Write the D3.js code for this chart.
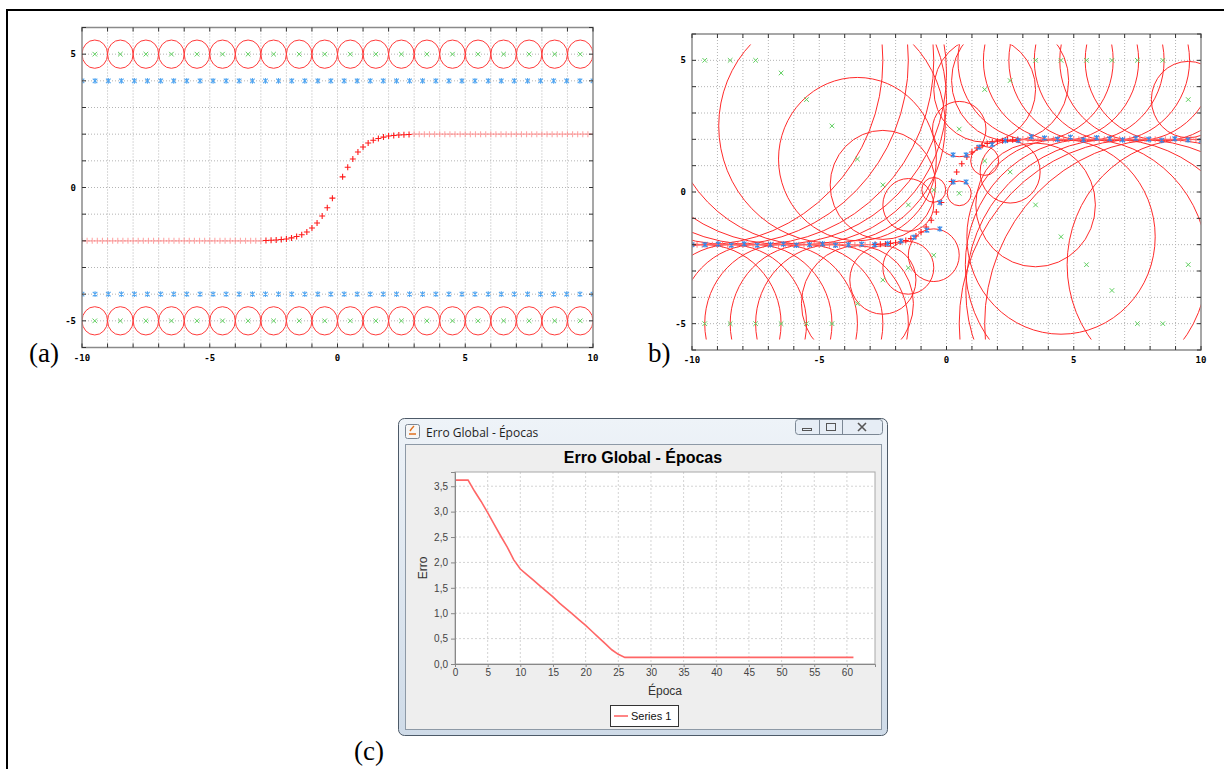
<!DOCTYPE html>
<html>
<head>
<meta charset="utf-8">
<script src="https://cdn.jsdelivr.net/npm/d3@7"></script>
<style>
  body { margin: 0; background: #fff; }
  svg { display: block; }
</style>
</head>
<body>
<svg id="fig" width="1224" height="769"></svg>
<script>
/*
** DATA
*/
// Sample positions used by the network output (40 points across [-10, 10])
const sampleX = [-10, -9.49, -8.97, -8.46, -7.95, -7.44, -6.92, -6.41, -5.9, -5.38,
  -4.87, -4.36, -3.85, -3.33, -2.82, -2.31, -1.79, -1.28, -0.77, -0.26,
  0.26, 0.77, 1.28, 1.79, 2.31, 2.82, 3.33, 3.85, 4.36, 4.87,
  5.38, 5.9, 6.41, 6.92, 7.44, 7.95, 8.46, 8.97, 9.49, 10];

// Target curve (red +): flat parts and the rising part
const plateauLeftX = [-10, -9.8, -9.6, -9.4, -9.2, -9, -8.8, -8.6, -8.4, -8.2, -8, -7.8,
  -7.6, -7.4, -7.2, -7, -6.8, -6.6, -6.4, -6.2, -6, -5.8, -5.6, -5.4, -5.2, -5, -4.8,
  -4.6, -4.4, -4.2, -4, -3.8, -3.6, -3.4, -3.2, -3];
const plateauRightX = [3, 3.2, 3.4, 3.6, 3.8, 4, 4.2, 4.4, 4.6, 4.8, 5, 5.2, 5.4, 5.6,
  5.8, 6, 6.2, 6.4, 6.6, 6.8, 7, 7.2, 7.4, 7.6, 7.8, 8, 8.2, 8.4, 8.6, 8.8, 9, 9.2,
  9.4, 9.6, 9.8, 10];
const plateauLevels = [-2, 2];
const curveX = [-2.8, -2.6, -2.4, -2.2, -2, -1.8, -1.6, -1.4, -1.2, -1, -0.8, -0.6, -0.4, -0.2,
  0.2, 0.4, 0.6, 0.8, 1, 1.2, 1.4, 1.6, 1.8, 2, 2.2, 2.4, 2.6, 2.8];
const curveY = [-1.99, -1.98, -1.97, -1.95, -1.93, -1.89, -1.84, -1.77, -1.67, -1.52, -1.33, -1.07, -0.76, -0.4,
  0.4, 0.76, 1.07, 1.33, 1.52, 1.67, 1.77, 1.84, 1.89, 1.93, 1.95, 1.97, 1.98, 1.99];

// (a) initial centres, radius and output levels
const centerX = [-9.5, -8.5, -7.5, -6.5, -5.5, -4.5, -3.5, -2.5, -1.5, -0.5,
  0.5, 1.5, 2.5, 3.5, 4.5, 5.5, 6.5, 7.5, 8.5, 9.5];
const initCenterLevels = [5, -5];
const initRadius = 0.5;
const initOutputLevels = [4, -4];

// (b) trained centres (upper and lower set) and radii
const trainedTopY = [5, 5, 5, 4.52, 3.51, 2.51, 1.25, 0.27, -0.49, 0.08,
  2.39, 3.89, 4.23, 5, 5, 5, 5, 5, 5, 3.51];
const trainedTopR = [7, 7, 7, 6.5, 5.5, 4.45, 3.1, 2.07, 1.0, 0.47,
  1.05, 2.0, 2.3, 3.05, 3.05, 3.05, 3.05, 3.05, 3.05, 1.45];
const trainedBotY = [-5, -5, -5, -5, -5, -5, -4.24, -3.34, -2.88, -2.4,
  -0.05, 1.18, 0.76, -0.49, -1.7, -2.76, -3.74, -5, -5, -2.76];
const trainedBotR = [3, 3, 3, 3, 3, 3, 2.2, 1.3, 1.0, 1.0,
  0.47, 0.55, 1.18, 2.35, 3.7, 4.76, 5.74, 7, 7, 4.76];

// (b) network output at the sample positions
const outputY = [-2, -2, -1.98, -2.02, -1.97, -2.02, -2, -1.98, -2.02, -2,
  -1.97, -2.02, -2, -1.98, -2, -1.96, -1.86, -1.72, -1.45, -1.4,
  0.38, 0.38, 1.7, 1.8, 1.95, 1.96, 2.1, 2.05, 2, 2.08,
  1.98, 2.06, 2.02, 1.98, 2.04, 2, 1.96, 2.02, 1.98, 1.95];
const extraOutputX = [-0.26, 0.26, 0.77];
const extraOutputY = [-0.4, 1.41, 1.41];

// (c) global error per epoch
const epochs = [0, 1, 2, 3, 4, 5, 6, 7, 8, 9, 10, 11, 12, 13, 14, 15, 16, 17, 18, 19, 20,
  21, 22, 23, 24, 25, 26, 27, 28, 29, 30, 31, 32, 33, 34, 35, 36, 37, 38, 39, 40,
  41, 42, 43, 44, 45, 46, 47, 48, 49, 50, 51, 52, 53, 54, 55, 56, 57, 58, 59, 60, 61];
const errors = [3.62, 3.62, 3.62, 3.4, 3.2, 2.98, 2.75, 2.52, 2.3, 2.05, 1.87,
  1.76, 1.65, 1.54, 1.43, 1.32, 1.2, 1.09, 0.98, 0.87, 0.76,
  0.64, 0.52, 0.4, 0.28, 0.19, 0.13, 0.13, 0.13, 0.13, 0.13, 0.13, 0.13, 0.13, 0.13, 0.13,
  0.13, 0.13, 0.13, 0.13, 0.13, 0.13, 0.13, 0.13, 0.13, 0.13, 0.13, 0.13, 0.13, 0.13, 0.13,
  0.13, 0.13, 0.13, 0.13, 0.13, 0.13, 0.13, 0.13, 0.13, 0.13, 0.13];
const errTicksY = [0, 0.5, 1, 1.5, 2, 2.5, 3, 3.5];
const errTicksX = [0, 5, 10, 15, 20, 25, 30, 35, 40, 45, 50, 55, 60];

/*
** HELPERS
*/
const svg = d3.select("#fig");
const defs = svg.append("defs");

const plusPath = s => `M${-s},0H${s}M0,${-s}V${s}`;
const crossPath = s => `M${-s},${-s}L${s},${s}M${-s},${s}L${s},${-s}`;
const starPath = s => crossPath(s) + `M0,${-s - 0.5}V${s + 0.5}`;

function targetPoints() {
  let pts = [];
  plateauLeftX.forEach(x => pts.push({ x: x, y: plateauLevels[0], flat: true }));
  curveX.forEach((x, i) => pts.push({ x: x, y: curveY[i], flat: false }));
  plateauRightX.forEach(x => pts.push({ x: x, y: plateauLevels[1], flat: true }));
  return pts;
}

function markers(g, data, x, y, path, color, width, opacity) {
  g.append("g").selectAll("path").data(data).join("path")
    .attr("transform", d => `translate(${x(d.x)},${y(d.y)})`)
    .attr("d", path)
    .attr("fill", "none")
    .attr("stroke", d => typeof color === "function" ? color(d) : color)
    .attr("stroke-width", width)
    .attr("opacity", d => typeof opacity === "function" ? opacity(d) : opacity);
}

// Gnuplot-like panel: frame, dotted grid, ticks on all sides, labels
function gnuPanel(id, x, y, labelAnchorX) {
  const g = svg.append("g");
  const [xl, xr] = x.range();
  const [yb, yt] = y.range();

  defs.append("clipPath").attr("id", id)
    .append("rect").attr("x", xl).attr("y", y(5.6)).attr("width", xr - xl).attr("height", y(-5.6) - y(5.6));

  const grid = g.append("g").attr("stroke", "#b4b4b4").attr("stroke-dasharray", "1,2").attr("stroke-width", 1);
  grid.selectAll(".gx").data(x.ticks(20).slice(1, -1)).join("line")
    .attr("x1", d => x(d)).attr("x2", d => x(d)).attr("y1", yt).attr("y2", yb);
  grid.selectAll(".gy").data(y.ticks(12).slice(1, -1)).join("line")
    .attr("y1", d => y(d)).attr("y2", d => y(d)).attr("x1", xl).attr("x2", xr);

  const content = g.append("g").attr("clip-path", `url(#${id})`);
  const overlay = g.append("g");

  overlay.append("rect").attr("x", xl).attr("y", yt).attr("width", xr - xl).attr("height", yb - yt)
    .attr("fill", "none").attr("stroke", "#8a8a8a").attr("stroke-width", 1.5);

  const ticks = overlay.append("g").attr("stroke", "#333").attr("stroke-width", 1);
  x.ticks(20).forEach(d => {
    ticks.append("line").attr("x1", x(d)).attr("x2", x(d)).attr("y1", yb).attr("y2", yb - 4);
    ticks.append("line").attr("x1", x(d)).attr("x2", x(d)).attr("y1", yt).attr("y2", yt + 4);
  });
  y.ticks(12).forEach(d => {
    ticks.append("line").attr("y1", y(d)).attr("y2", y(d)).attr("x1", xl).attr("x2", xl + 4);
    ticks.append("line").attr("y1", y(d)).attr("y2", y(d)).attr("x1", xr).attr("x2", xr - 4);
  });

  const font = "bold 9px 'DejaVu Sans Mono', monospace";
  overlay.selectAll(".xl").data(x.ticks(4)).join("text")
    .attr("x", d => x(d)).attr("y", yb + 13).attr("text-anchor", "middle")
    .style("font", font).text(d => String(d));
  overlay.selectAll(".yl").data(y.ticks(12).filter(d => d % 5 === 0)).join("text")
    .attr("x", labelAnchorX).attr("y", d => y(d) + 3).attr("text-anchor", "end")
    .style("font", font).text(d => String(d));

  return content;
}

/*
** OUTER FRAME AND LABELS
*/
svg.append("rect").attr("x", 7).attr("y", 10).attr("width", 1260).attr("height", 800)
  .attr("fill", "none").attr("stroke", "#000").attr("stroke-width", 2);

const serif = "'Liberation Serif', 'Times New Roman', serif";
svg.append("text").attr("x", 29).attr("y", 362).style("font-family", serif).style("font-size", "27px").text("(a)");
svg.append("text").attr("x", 648).attr("y", 362).style("font-family", serif).style("font-size", "27px").text("b)");
svg.append("text").attr("x", 354).attr("y", 760).style("font-family", serif).style("font-size", "27px").text("(c)");

/*
** PANEL (a)
*/
const xA = d3.scaleLinear().domain([-10, 10]).range([82, 593]);
const yA = d3.scaleLinear().domain([-6, 6]).range([347.5, 27.5]);
const gA = gnuPanel("clipA", xA, yA, 76);

let initCircles = [];
initCenterLevels.forEach(lv => centerX.forEach(cx => initCircles.push({ x: cx, y: lv, r: initRadius })));

gA.append("g").selectAll("ellipse").data(initCircles).join("ellipse")
  .attr("cx", d => xA(d.x)).attr("cy", d => yA(d.y))
  .attr("rx", d => xA(d.r) - xA(0)).attr("ry", d => yA(0) - yA(d.r) + 0.8)
  .attr("fill", "none").attr("stroke", "#ff3b3b").attr("stroke-width", 1);

markers(gA, initCircles, xA, yA, crossPath(2.3), "#5fcf5f", 1, 1);
markers(gA, targetPoints(), xA, yA, plusPath(3), d => d.flat ? "#ff8a8a" : "#ff1a1a", 1.1, d => d.flat ? 0.75 : 1);

let initOut = [];
initOutputLevels.forEach(lv => sampleX.forEach(sx => initOut.push({ x: sx, y: lv })));
markers(gA, initOut, xA, yA, starPath(2.3), "#3f9cf0", 1.1, 0.9);

/*
** PANEL (b)
*/
const xB = d3.scaleLinear().domain([-10, 10]).range([692, 1201]);
const yB = d3.scaleLinear().domain([-6, 6]).range([350, 34]);
const gB = gnuPanel("clipB", xB, yB, 686);

let trained = [];
centerX.forEach((cx, i) => trained.push({ x: cx, y: trainedTopY[i], r: trainedTopR[i] }));
centerX.forEach((cx, i) => trained.push({ x: cx, y: trainedBotY[i], r: trainedBotR[i] }));

gB.append("g").selectAll("ellipse").data(trained).join("ellipse")
  .attr("cx", d => xB(d.x)).attr("cy", d => yB(d.y))
  .attr("rx", d => xB(d.r) - xB(0)).attr("ry", d => yB(0) - yB(d.r))
  .attr("fill", "none").attr("stroke", "#ff2a2a").attr("stroke-width", 1);

markers(gB, trained, xB, yB, crossPath(2.3), "#5fcf5f", 1, 1);
markers(gB, targetPoints(), xB, yB, plusPath(3), d => d.flat ? "#ff6a6a" : "#ff1a1a", 1.1, d => d.flat ? 0.8 : 1);

let trainedOut = sampleX.map((sx, i) => ({ x: sx, y: outputY[i] }));
extraOutputX.forEach((ex, i) => trainedOut.push({ x: ex, y: extraOutputY[i] }));
markers(gB, trainedOut, xB, yB, starPath(2.3), "#2f86e8", 1.2, 0.95);

/*
** PANEL (c) - JFreeChart window
*/
const win = svg.append("g");
const grad = defs.append("linearGradient").attr("id", "titleGrad").attr("x1", 0).attr("y1", 0).attr("x2", 0).attr("y2", 1);
grad.append("stop").attr("offset", "0%").attr("stop-color", "#eef3f8");
grad.append("stop").attr("offset", "100%").attr("stop-color", "#cfdbe8");

win.append("rect").attr("x", 398.5).attr("y", 418.5).attr("width", 489).attr("height", 317).attr("rx", 6)
  .attr("fill", "url(#titleGrad)").attr("stroke", "#4d5a68").attr("stroke-width", 1);
win.append("rect").attr("x", 405.5).attr("y", 444.5).attr("width", 476).attr("height", 285)
  .attr("fill", "#eeeeee").attr("stroke", "#8d99a6").attr("stroke-width", 1);

// title bar icon and text
win.append("rect").attr("x", 405.5).attr("y", 424.5).attr("width", 14).attr("height", 14).attr("rx", 2)
  .attr("fill", "#f6f6f6").attr("stroke", "#7a8694");
win.append("path").attr("d", "M409,434 h7 M410,431 q2,-3 4,-5").attr("stroke", "#e07020").attr("stroke-width", 1.4).attr("fill", "none");
win.append("text").attr("x", 426).attr("y", 437).style("font", "12px 'Open Sans', 'Noto Sans', sans-serif")
  .attr("fill", "#1e1e1e").text("Erro Global - Épocas");

// window buttons
const btn = win.append("g");
btn.append("rect").attr("x", 795.5).attr("y", 419.5).attr("width", 87).attr("height", 15).attr("rx", 3)
  .attr("fill", "#e6edf5").attr("stroke", "#7b8794");
btn.append("line").attr("x1", 819.5).attr("x2", 819.5).attr("y1", 420).attr("y2", 434).attr("stroke", "#7b8794");
btn.append("line").attr("x1", 842.5).attr("x2", 842.5).attr("y1", 420).attr("y2", 434).attr("stroke", "#7b8794");
btn.append("rect").attr("x", 802.5).attr("y", 428.5).attr("width", 9).attr("height", 2).attr("fill", "none").attr("stroke", "#555");
btn.append("rect").attr("x", 826.5).attr("y", 423.5).attr("width", 9).attr("height", 7).attr("fill", "none").attr("stroke", "#555");
btn.append("path").attr("d", "M858,423 l8,8 M866,423 l-8,8").attr("stroke", "#555").attr("stroke-width", 1.6);

// chart title
win.append("text").attr("x", 643).attr("y", 463).attr("text-anchor", "middle")
  .style("font", "bold 16px 'Liberation Sans', Arial, sans-serif").text("Erro Global - Épocas");

const xC = d3.scaleLinear().domain([0, 64.3]).range([455, 875]);
const yC = d3.scaleLinear().domain([0, 3.78]).range([664, 472]);
const ptBR = d3.formatLocale({ decimal: ",", thousands: ".", grouping: [3], currency: ["", ""] });

const plotC = win.append("g");
plotC.append("rect").attr("x", 455).attr("y", 472).attr("width", 420).attr("height", 192).attr("fill", "#fff");

const gridC = plotC.append("g").attr("stroke", "#d4d4d4").attr("stroke-dasharray", "2,2");
gridC.selectAll(".gx").data(errTicksX.slice(1)).join("line")
  .attr("x1", d => xC(d)).attr("x2", d => xC(d)).attr("y1", 472).attr("y2", 664);
gridC.selectAll(".gy").data(errTicksY.slice(1)).join("line")
  .attr("y1", d => yC(d)).attr("y2", d => yC(d)).attr("x1", 455).attr("x2", 875);

plotC.append("rect").attr("x", 455).attr("y", 472).attr("width", 420).attr("height", 192)
  .attr("fill", "none").attr("stroke", "#a8a8a8");

const line = d3.line().x((d, i) => xC(epochs[i])).y(d => yC(d));
plotC.append("path").datum(errors).attr("d", line)
  .attr("fill", "none").attr("stroke", "#ff6666").attr("stroke-width", 1.6);

const axisFont = "10px 'Liberation Sans', Arial, sans-serif";
const yAxis = plotC.append("g").attr("transform", "translate(455,0)")
  .call(d3.axisLeft(yC).tickValues(errTicksY).tickFormat(ptBR.format(".1f")).tickSize(4).tickPadding(3));
const xAxis = plotC.append("g").attr("transform", "translate(0,664)")
  .call(d3.axisBottom(xC).tickValues(errTicksX).tickSize(3).tickPadding(2));
[yAxis, xAxis].forEach(ax => {
  ax.select(".domain").attr("stroke", "#888");
  ax.selectAll(".tick line").attr("stroke", "#888");
  ax.selectAll(".tick text").style("font", axisFont).attr("fill", "#444");
});

win.append("text").attr("x", 665).attr("y", 695).attr("text-anchor", "middle")
  .style("font", "12px 'Liberation Sans', Arial, sans-serif").attr("fill", "#333").text("Época");
win.append("text").attr("transform", "translate(427,568) rotate(-90)").attr("text-anchor", "middle")
  .style("font", "12px 'Liberation Sans', Arial, sans-serif").attr("fill", "#333").text("Erro");

// legend
win.append("rect").attr("x", 610.5).attr("y", 705.5).attr("width", 68).attr("height", 21)
  .attr("fill", "#fff").attr("stroke", "#333");
win.append("line").attr("x1", 614).attr("x2", 628).attr("y1", 716).attr("y2", 716)
  .attr("stroke", "#ff6666").attr("stroke-width", 1.6);
win.append("text").attr("x", 631).attr("y", 720)
  .style("font", "11px 'Liberation Sans', Arial, sans-serif").attr("fill", "#111").text("Series 1");
</script>
</body>
</html>
